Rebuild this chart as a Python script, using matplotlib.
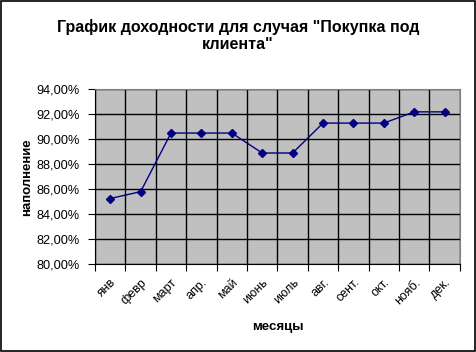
import numpy as np
import matplotlib
matplotlib.use("Agg")
import matplotlib.pyplot as plt
from matplotlib.ticker import FuncFormatter, FixedLocator
from matplotlib.patches import Rectangle

# ── data ────────────────────────────────────────
months = ["янв", "февр", "март", "апр.", "май", "июнь",
          "июль", "авг.", "сент.", "окт.", "нояб.", "дек."]
fill = [85.25, 85.8, 90.5, 90.5, 90.5, 88.9,
        88.9, 91.3, 91.3, 91.3, 92.2, 92.2]
y_ticks = [80, 82, 84, 86, 88, 90, 92, 94]

plt.rcParams["font.family"] = ["Liberation Sans", "DejaVu Sans"]

fig = plt.figure(figsize=(4.76, 3.52), dpi=100)
fig.patches.append(Rectangle((0.003, 0.003), 0.994, 0.994, transform=fig.transFigure,
                             fill=False, edgecolor="black", linewidth=1.2))

ax = fig.add_axes([0.1996, 0.25, 0.7664, 0.496])
ax.set_facecolor("#C0C0C0")

x = np.arange(len(months))
ax.plot(x, fill, color="#000080", linewidth=1, marker="D", markersize=4,
        markerfacecolor="#000080", markeredgecolor="#000080", zorder=3)

ax.set_xlim(-0.5, len(months) - 0.5)
ax.set_ylim(80, 94)

# grid between categories
ax.xaxis.set_major_locator(FixedLocator(np.arange(len(months) + 1) - 0.5))
ax.set_xticklabels([])
ax.set_xticks(x, minor=True)
ax.set_xticklabels(months, minor=True, rotation=45, ha="right",
                   rotation_mode="anchor", fontsize=9)
ax.tick_params(axis="x", which="minor", length=0, pad=9)
ax.tick_params(axis="x", which="major", length=5, direction="out", color="black")

ax.set_yticks(y_ticks)
ax.yaxis.set_major_formatter(FuncFormatter(lambda v, p: f"{v:.2f}%".replace(".", ",")))
ax.tick_params(axis="y", length=5, direction="out", labelsize=9.2, pad=6)

ax.grid(True, which="major", color="black", linewidth=1)
ax.set_axisbelow(True)

for s in ("top", "right"):
    ax.spines[s].set_color("#808080")
for s in ("left", "bottom"):
    ax.spines[s].set_color("black")

ax.set_xlabel("месяцы", fontsize=9.5, fontweight="bold", labelpad=10)
ax.set_ylabel("наполнение", fontsize=9.5, fontweight="bold", labelpad=2)

fig.text(0.5, 0.945, 'График доходности для случая "Покупка под\nклиента"',
         ha="center", va="top", fontsize=11.5, fontweight="bold", linespacing=1.15)

fig.savefig("out.png", dpi=100)
